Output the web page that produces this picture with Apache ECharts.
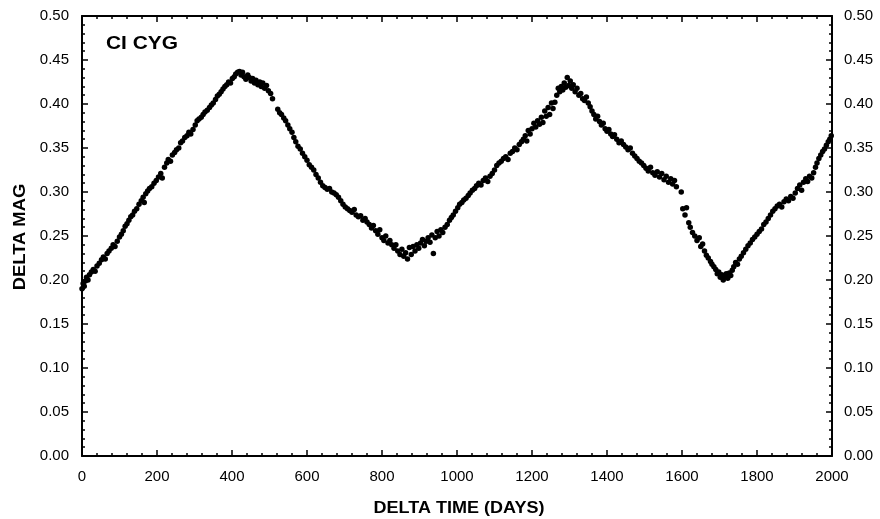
<!DOCTYPE html>
<html>
<head>
<meta charset="utf-8">
<script src="https://cdn.jsdelivr.net/npm/echarts@6/dist/echarts.min.js"></script>
<style>html,body{margin:0;padding:0;background:#fff}#c{width:880px;height:519px}</style>
</head>
<body>
<div id="c"></div>
<script>
var xTicks = [0,200,400,600,800,1000,1200,1400,1600,1800,2000];
var yTicks = [0.00,0.05,0.10,0.15,0.20,0.25,0.30,0.35,0.40,0.45,0.50];
var chartLabel = "CI CYG";
var xTitle = "DELTA TIME (DAYS)";
var yTitle = "DELTA MAG";

var days = [
0,3,6,9,12,16,20,25,30,35,40,46,52,57,62,67,72,78,83,88,94,100,105,110,115,120,125,130,135,140,146,152,158,163,166,170,175,180,186,192,198,204,210,214,220,226,230,236,241,247,252,258,263,268,274,280,285,290,296,302,307,312,318,323,328,334,340,345,350,356,361,366,371,376,381,386,391,396,401,406,410,415,420,424,428,432,437,442,446,451,455,460,464,469,474,478,482,487,492,497,503,508,
522,527,532,538,543,549,554,560,565,570,576,582,588,594,600,606,612,618,624,630,636,642,648,654,660,666,672,678,684,690,696,702,708,714,720,726,731,737,743,749,755,760,766,772,777,783,789,794,800,805,810,816,821,826,832,837,842,848,853,858,863,868,873,878,883,888,893,898,903,908,913,918,923,928,933,937,942,947,952,957,
962,968,974,980,985,990,996,1002,1007,1013,1018,1024,1030,1035,1041,1047,1052,1058,1064,1070,1076,1082,1088,1094,1100,1106,1112,1118,1124,1130,1136,1142,1148,1154,1160,1166,1172,1177,1182,1186,1190,1195,1200,1205,1210,1215,1220,1225,1229,1234,1238,1243,1247,1252,1256,1261,1266,1270,1274,1278,1282,1286,1290,1294,1298,1302,1306,1310,1315,1320,1325,1330,1335,1340,1345,1350,1355,1360,1365,1370,1375,1380,1385,1390,1395,1400,1405,1410,1415,1420,1426,1432,1438,1444,1450,1456,1462,1468,1474,1480,1486,1492,1498,1504,1510,1516,1522,1528,1534,1540,1546,1552,1558,1564,1570,1575,1580,1585,1598,
1602,1608,1612,1618,1622,1628,1634,1640,1646,1650,1655,1660,1665,1670,1676,1680,1685,1690,1694,1698,1702,1706,1710,1714,1718,1722,1726,1730,1734,
1738,1743,1748,1753,1758,1764,1770,1776,1782,1788,1794,1800,1806,1812,1818,1824,1830,1836,1842,1848,1854,1860,1866,1872,1878,1884,1890,1896,1902,1908,1914,1919,1924,1930,1935,1940,1946,1951,1956,1960,1965,1970,1975,1980,1985,1990,1994,1998
];
var mags = [
0.190,0.196,0.193,0.199,0.203,0.200,0.206,0.209,0.212,0.210,0.216,0.219,0.223,0.226,0.224,0.230,0.233,0.236,0.240,0.238,0.244,0.249,0.252,0.256,0.261,0.264,0.268,0.272,0.274,0.278,0.281,0.286,0.290,0.294,0.288,0.298,0.301,0.304,0.306,0.310,0.313,0.317,0.321,0.316,0.328,0.333,0.337,0.335,0.342,0.345,0.348,0.350,0.356,0.358,0.362,0.364,0.368,0.366,0.371,0.376,0.381,0.383,0.385,0.388,0.391,0.393,0.396,0.399,0.401,0.405,0.409,0.411,0.414,0.417,0.420,0.422,0.425,0.424,0.429,0.431,0.434,0.436,0.437,0.433,0.436,0.431,0.428,0.433,0.430,0.426,0.429,0.424,0.427,0.422,0.425,0.420,0.424,0.418,0.421,0.415,0.412,0.406,
0.394,0.390,0.388,0.384,0.381,0.376,0.372,0.368,0.362,0.357,0.352,0.349,0.344,0.340,0.336,0.331,0.328,0.325,0.320,0.316,0.311,0.307,0.305,0.303,0.304,0.300,0.299,0.297,0.294,0.290,0.286,0.283,0.281,0.279,0.277,0.280,0.274,0.272,0.273,0.268,0.270,0.266,0.263,0.259,0.262,0.256,0.252,0.257,0.248,0.245,0.250,0.242,0.245,0.240,0.236,0.240,0.233,0.229,0.235,0.227,0.231,0.224,0.237,0.229,0.238,0.233,0.240,0.236,0.242,0.246,0.239,0.244,0.248,0.243,0.251,0.230,0.248,0.255,0.250,0.257,
0.254,0.260,0.263,0.268,0.271,0.274,0.278,0.282,0.286,0.288,0.291,0.293,0.296,0.299,0.302,0.304,0.307,0.310,0.308,0.313,0.316,0.312,0.318,0.321,0.325,0.330,0.333,0.335,0.338,0.340,0.337,0.344,0.346,0.350,0.348,0.354,0.357,0.360,0.364,0.358,0.370,0.366,0.372,0.378,0.374,0.381,0.377,0.385,0.379,0.392,0.386,0.396,0.388,0.401,0.395,0.402,0.410,0.418,0.414,0.420,0.416,0.424,0.419,0.430,0.421,0.426,0.418,0.422,0.414,0.418,0.410,0.412,0.406,0.404,0.408,0.401,0.397,0.392,0.388,0.383,0.386,0.380,0.376,0.378,0.372,0.369,0.371,0.366,0.363,0.365,0.360,0.356,0.358,0.354,0.351,0.348,0.350,0.344,0.341,0.338,0.335,0.333,0.330,0.327,0.324,0.328,0.322,0.319,0.323,0.317,0.321,0.314,0.318,0.311,0.315,0.309,0.313,0.306,0.300,
0.281,0.274,0.282,0.265,0.260,0.254,0.250,0.245,0.248,0.238,0.241,0.233,0.228,0.225,0.221,0.218,0.215,0.212,0.207,0.209,0.203,0.206,0.200,0.204,0.207,0.202,0.208,0.205,0.211,
0.215,0.220,0.218,0.224,0.227,0.231,0.235,0.239,0.242,0.246,0.249,0.252,0.255,0.258,0.263,0.266,0.270,0.274,0.278,0.281,0.284,0.286,0.283,0.289,0.292,0.290,0.295,0.293,0.299,0.304,0.308,0.302,0.311,0.315,0.312,0.318,0.316,0.322,0.328,0.333,0.338,0.342,0.346,0.349,0.353,0.357,0.360,0.364
];

var points = days.map(function(d, i){ return [d, mags[i]]; });

var chart = echarts.init(document.getElementById('c'), null, {renderer:'canvas'});
var FONT = 'Liberation Sans, Arial, sans-serif';
var axisLine = {show:true, onZero:false, lineStyle:{color:'#000', width:2}};
var majorTick = {show:true, inside:true, length:6, lineStyle:{color:'#000', width:1.5}};
var minorTick = {show:true, splitNumber:5, length:3, lineStyle:{color:'#000', width:1.5}};

chart.setOption({
  animation:false,
  backgroundColor:'#fff',
  grid:{left:82, right:48, top:16, bottom:63, containLabel:false},
  graphic:[
    {type:'text', x:106, y:34, scaleX:1.1, style:{text:chartLabel, fill:'#000', font:'bold 19px ' + FONT}},
    {type:'text', x:459, y:508, originX:0, originY:0, scaleX:1.06,
      style:{text:xTitle, fill:'#000', font:'bold 17px ' + FONT, textAlign:'center', textVerticalAlign:'middle'}},
    {type:'text', x:20, y:237, rotation:Math.PI/2, scaleX:1.08,
      style:{text:yTitle, fill:'#000', font:'bold 17px ' + FONT, textAlign:'center', textVerticalAlign:'middle'}}
  ],
  xAxis:[{
    type:'value', min:0, max:2000, interval:200, position:'bottom',
    axisLine:axisLine, axisTick:majorTick,
    minorTick:Object.assign({}, minorTick),
    axisLabel:{color:'#000', fontSize:15, fontFamily:FONT, margin:13,
      formatter:function(v){ return String(v); }},
    splitLine:{show:false}, minorSplitLine:{show:false}
  },{
    type:'value', min:0, max:2000, interval:200, position:'top',
    axisLine:axisLine, axisTick:majorTick, minorTick:Object.assign({}, minorTick),
    axisLabel:{show:false}, splitLine:{show:false}
  }],
  yAxis:[{
    type:'value', min:0, max:0.5, interval:0.05, position:'left',
    axisLine:axisLine, axisTick:majorTick, minorTick:Object.assign({}, minorTick),
    axisLabel:{color:'#000', fontSize:15, fontFamily:FONT, margin:13,
      formatter:function(v){ return v.toFixed(2); }},
    splitLine:{show:false}
  },{
    type:'value', min:0, max:0.5, interval:0.05, position:'right',
    axisLine:axisLine, axisTick:majorTick, minorTick:Object.assign({}, minorTick),
    axisLabel:{color:'#000', fontSize:15, fontFamily:FONT, margin:12,
      formatter:function(v){ return v.toFixed(2); }},
    splitLine:{show:false}
  }],
  series:[{
    type:'scatter', xAxisIndex:0, yAxisIndex:0,
    data:points, symbol:'circle', symbolSize:5.5,
    itemStyle:{color:'#000', opacity:1}
  }]
});
</script>
</body>
</html>
